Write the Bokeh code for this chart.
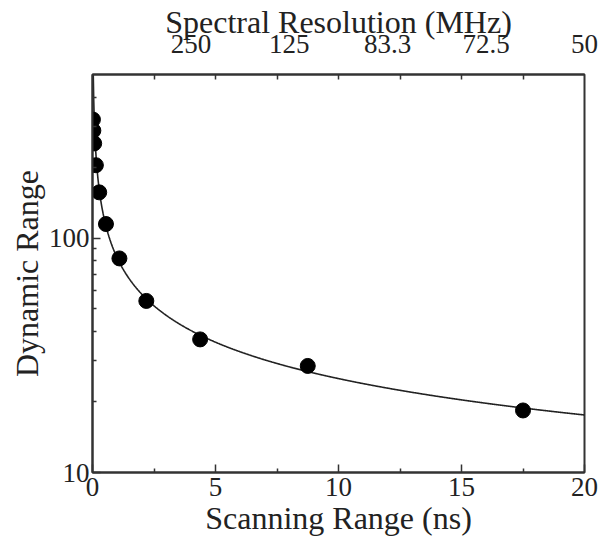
import numpy as np
from bokeh.plotting import figure
from bokeh.models import LinearAxis, FixedTicker, Range1d
from bokeh.embed import file_html
from bokeh.resources import INLINE

# Data
scan_range_ns = [0.017, 0.034, 0.068, 0.137, 0.273, 0.547, 1.094, 2.188, 4.375, 8.75, 17.5]
dynamic_range = [321, 288, 254, 205, 157, 115, 82, 54, 37, 28.5, 18.4]

bottom_ticks = [0, 5, 10, 15, 20]
bottom_minor = [2.5, 7.5, 12.5, 17.5]
top_tick_pos = [4, 8, 12, 16, 20]
top_tick_labels = ["250", "125", "83.3", "72.5", "50"]
top_minor = [2.5, 5, 7.5, 10, 12.5, 15, 17.5]
y_ticks = [10, 100]
y_minor = [20, 30, 40, 50, 60, 70, 80, 90, 200, 300, 400]

FONT = "Liberation Serif"
INK = "#222222"

# Power-law fit (least squares in log-log space) on the points away from x≈0
sx = np.array(scan_range_ns)
sy = np.array(dynamic_range)
m = sx >= 0.25
coef = np.polyfit(np.log10(sx[m]), np.log10(sy[m]), 1)
xf = np.linspace(0.01, 20, 1000)
yf = 10 ** np.polyval(coef, np.log10(xf))

p = figure(width=602, height=539, output_backend="svg", toolbar_location=None,
           x_range=Range1d(0, 20), y_range=Range1d(10, 500), y_axis_type="log",
           min_border_left=92, min_border_right=18, min_border_top=73, min_border_bottom=67,
           x_axis_label="Scanning Range (ns)", y_axis_label="Dynamic Range")
p.grid.visible = False
p.outline_line_color = "#333333"
p.outline_line_width = 2
p.background_fill_color = "white"
p.border_fill_color = "white"

p.line(xf, yf, line_color=INK, line_width=1.6)
p.scatter(scan_range_ns, dynamic_range, size=15, marker="circle", fill_color="black", line_color="black")

xa = p.xaxis[0]
xa.ticker = FixedTicker(ticks=bottom_ticks, minor_ticks=bottom_minor)
ya = p.yaxis[0]
ya.ticker = FixedTicker(ticks=y_ticks, minor_ticks=y_minor)
ya.major_label_overrides = {10: "10", 100: "100"}

top = LinearAxis(ticker=FixedTicker(ticks=top_tick_pos, minor_ticks=top_minor),
                 major_label_overrides={t: l for t, l in zip(top_tick_pos, top_tick_labels)},
                 axis_label="Spectral Resolution (MHz)")
p.add_layout(top, "above")

for ax in (xa, ya, top):
    ax.axis_line_color = "#333333"
    ax.axis_line_width = 2
    ax.major_tick_line_color = "#333333"
    ax.minor_tick_line_color = "#333333"
    ax.major_tick_line_width = 1.5
    ax.minor_tick_line_width = 1.5
    ax.major_tick_in = 8
    ax.major_tick_out = 0
    ax.minor_tick_in = 4
    ax.minor_tick_out = 0
    ax.major_label_text_font = FONT
    ax.major_label_text_font_size = "27px"
    ax.major_label_text_color = INK
    ax.axis_label_text_font = FONT
    ax.axis_label_text_font_size = "32px"
    ax.axis_label_text_font_style = "normal"
    ax.axis_label_text_color = INK
    ax.major_label_standoff = 5
    ax.axis_label_standoff = 1

ya.major_label_standoff = 3
top.major_tick_in = 0
top.minor_tick_in = 5
top.major_label_standoff = 22
top.axis_label_standoff = -8

open("out.html", "w").write(file_html(p, INLINE))
